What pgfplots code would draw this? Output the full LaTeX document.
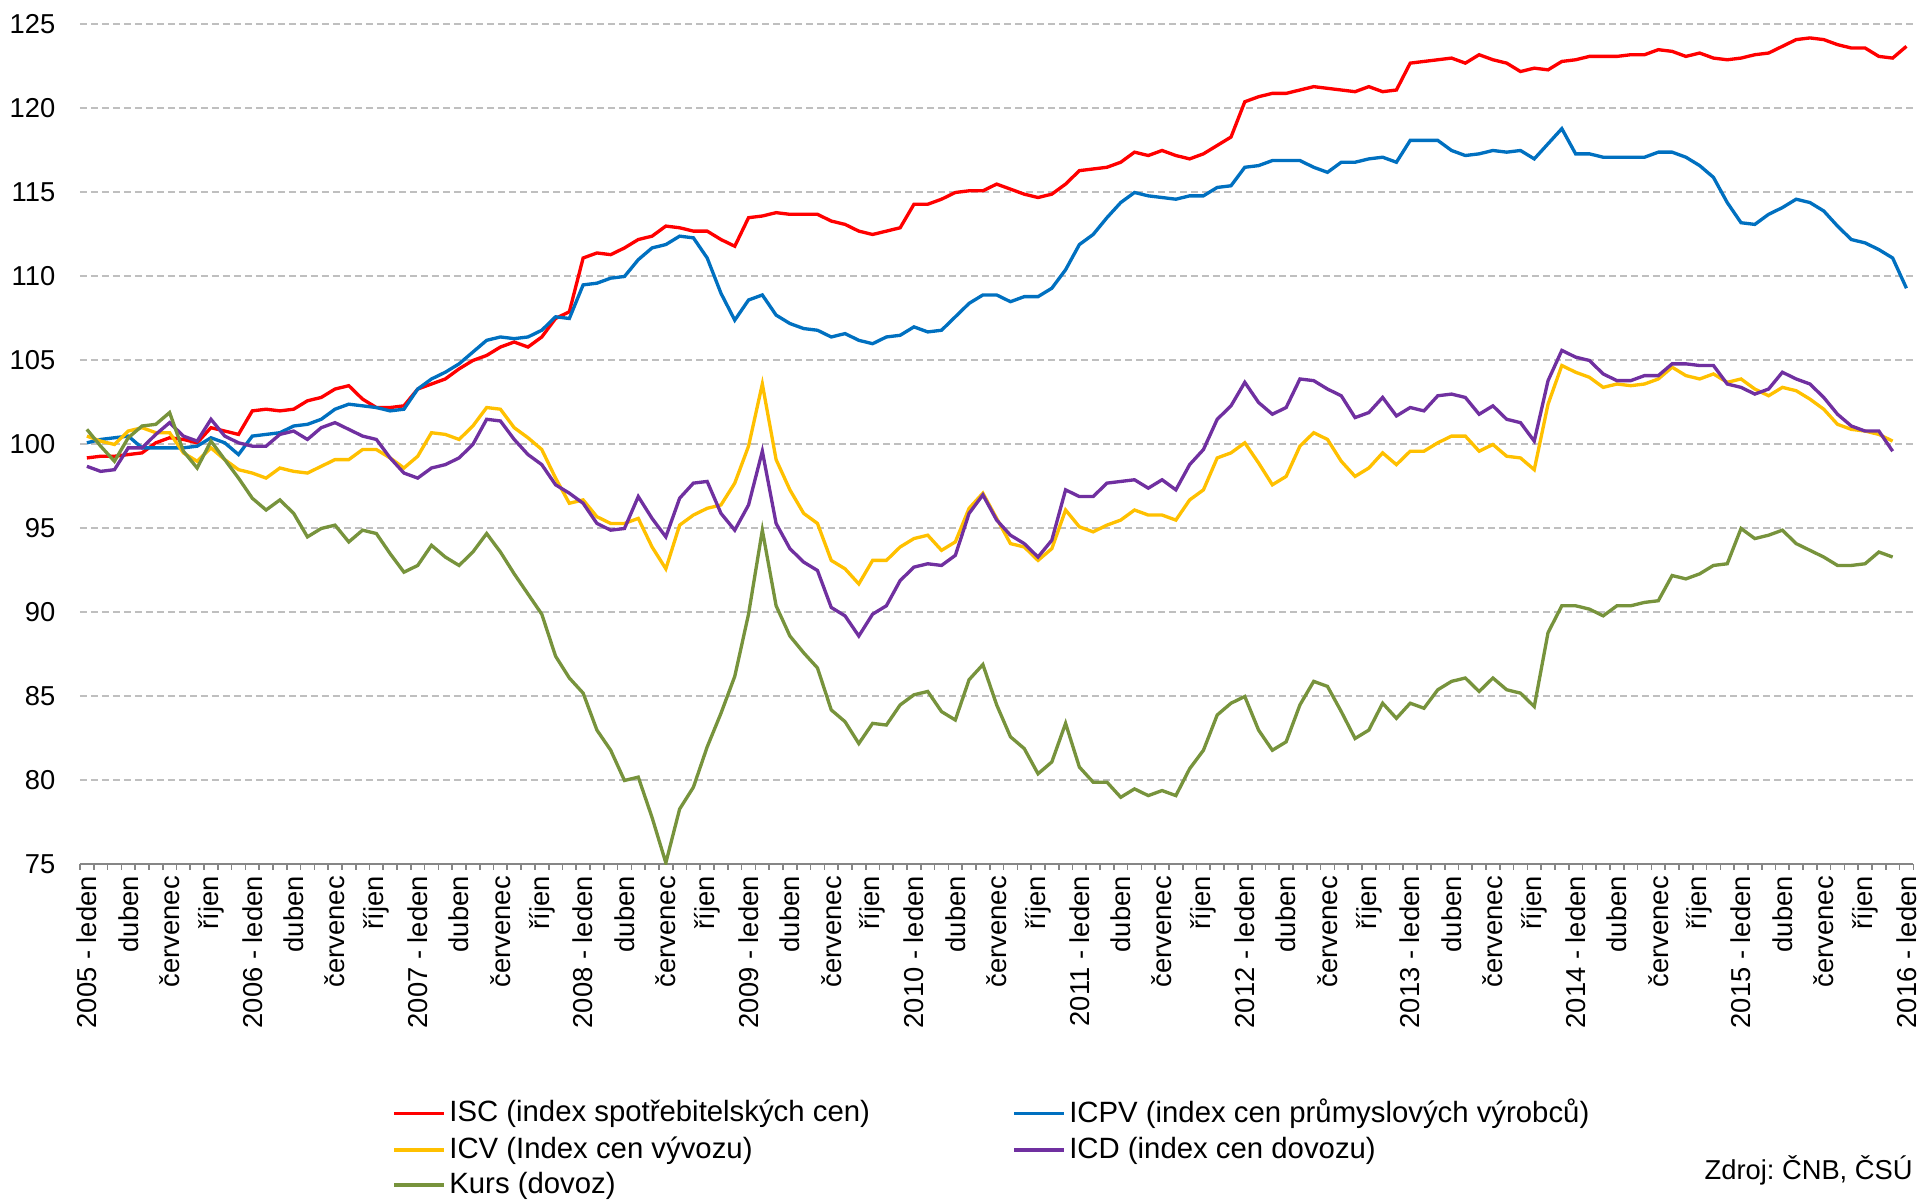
\documentclass[border=0pt]{standalone}
\usepackage{fontspec}
\setmainfont{Liberation Sans}
\usepackage{pgfplots}
\usepackage{pgfplotstable}
\pgfplotsset{compat=1.18}

\definecolor{cisc}{HTML}{FF0000}
\definecolor{cicpv}{HTML}{0070C0}
\definecolor{cicv}{HTML}{FFC000}
\definecolor{cicd}{HTML}{7030A0}
\definecolor{ckurs}{HTML}{77933C}
\definecolor{gridgray}{HTML}{BFBFBF}
\definecolor{axgray}{HTML}{868686}

% monthly indices, i = 0 is January 2005
\pgfplotstableread{
i isc icpv icv icd kurs
0 99.2 100.1 100.5 98.7 100.9
1 99.3 100.3 100.2 98.4 99.9
2 99.3 100.4 100.0 98.5 99.0
3 99.4 100.5 100.8 99.8 100.4
4 99.5 99.8 101.0 99.8 101.1
5 100.1 99.8 100.7 100.6 101.2
6 100.4 99.8 100.7 101.3 101.9
7 100.3 99.8 99.5 100.5 99.6
8 100.1 99.9 99.0 100.2 98.6
9 101.0 100.4 99.8 101.5 100.2
10 100.8 100.1 99.1 100.5 99.1
11 100.6 99.4 98.5 100.1 98.0
12 102.0 100.5 98.3 99.9 96.8
13 102.1 100.6 98.0 99.9 96.1
14 102.0 100.7 98.6 100.6 96.7
15 102.1 101.1 98.4 100.8 95.9
16 102.6 101.2 98.3 100.3 94.5
17 102.8 101.5 98.7 101.0 95.0
18 103.3 102.1 99.1 101.3 95.2
19 103.5 102.4 99.1 100.9 94.2
20 102.7 102.3 99.7 100.5 94.9
21 102.2 102.2 99.7 100.3 94.7
22 102.2 102.0 99.2 99.2 93.5
23 102.3 102.1 98.6 98.3 92.4
24 103.3 103.3 99.3 98.0 92.8
25 103.6 103.9 100.7 98.6 94.0
26 103.9 104.3 100.6 98.8 93.3
27 104.5 104.8 100.3 99.2 92.8
28 105.0 105.5 101.1 100.0 93.6
29 105.3 106.2 102.2 101.5 94.7
30 105.8 106.4 102.1 101.4 93.6
31 106.1 106.3 101.0 100.3 92.3
32 105.8 106.4 100.4 99.4 91.1
33 106.4 106.8 99.7 98.8 89.9
34 107.5 107.6 98.0 97.6 87.4
35 107.9 107.5 96.5 97.1 86.1
36 111.1 109.5 96.7 96.5 85.2
37 111.4 109.6 95.7 95.3 83.0
38 111.3 109.9 95.3 94.9 81.8
39 111.7 110.0 95.3 95.0 80.0
40 112.2 111.0 95.6 96.9 80.2
41 112.4 111.7 93.9 95.6 77.8
42 113.0 111.9 92.6 94.5 75.1
43 112.9 112.4 95.2 96.8 78.3
44 112.7 112.3 95.8 97.7 79.6
45 112.7 111.1 96.2 97.8 82.0
46 112.2 109.0 96.4 95.9 84.0
47 111.8 107.4 97.7 94.9 86.2
48 113.5 108.6 99.9 96.4 89.9
49 113.6 108.9 103.6 99.6 94.9
50 113.8 107.7 99.1 95.3 90.4
51 113.7 107.2 97.3 93.8 88.6
52 113.7 106.9 95.9 93.0 87.6
53 113.7 106.8 95.3 92.5 86.7
54 113.3 106.4 93.1 90.3 84.2
55 113.1 106.6 92.6 89.8 83.5
56 112.7 106.2 91.7 88.6 82.2
57 112.5 106.0 93.1 89.9 83.4
58 112.7 106.4 93.1 90.4 83.3
59 112.9 106.5 93.9 91.9 84.5
60 114.3 107.0 94.4 92.7 85.1
61 114.3 106.7 94.6 92.9 85.3
62 114.6 106.8 93.7 92.8 84.1
63 115.0 107.6 94.2 93.4 83.6
64 115.1 108.4 96.2 95.9 86.0
65 115.1 108.9 97.1 97.0 86.9
66 115.5 108.9 95.6 95.5 84.5
67 115.2 108.5 94.1 94.6 82.6
68 114.9 108.8 93.9 94.1 81.9
69 114.7 108.8 93.1 93.3 80.4
70 114.9 109.3 93.8 94.3 81.1
71 115.5 110.4 96.1 97.3 83.4
72 116.3 111.9 95.1 96.9 80.8
73 116.4 112.5 94.8 96.9 79.9
74 116.5 113.5 95.2 97.7 79.9
75 116.8 114.4 95.5 97.8 79.0
76 117.4 115.0 96.1 97.9 79.5
77 117.2 114.8 95.8 97.4 79.1
78 117.5 114.7 95.8 97.9 79.4
79 117.2 114.6 95.5 97.3 79.1
80 117.0 114.8 96.7 98.8 80.7
81 117.3 114.8 97.3 99.7 81.8
82 117.8 115.3 99.2 101.5 83.9
83 118.3 115.4 99.5 102.3 84.6
84 120.4 116.5 100.1 103.7 85.0
85 120.7 116.6 98.9 102.5 83.0
86 120.9 116.9 97.6 101.8 81.8
87 120.9 116.9 98.1 102.2 82.3
88 121.1 116.9 99.9 103.9 84.5
89 121.3 116.5 100.7 103.8 85.9
90 121.2 116.2 100.3 103.3 85.6
91 121.1 116.8 99.0 102.9 84.1
92 121.0 116.8 98.1 101.6 82.5
93 121.3 117.0 98.6 101.9 83.0
94 121.0 117.1 99.5 102.8 84.6
95 121.1 116.8 98.8 101.7 83.7
96 122.7 118.1 99.6 102.2 84.6
97 122.8 118.1 99.6 102.0 84.3
98 122.9 118.1 100.1 102.9 85.4
99 123.0 117.5 100.5 103.0 85.9
100 122.7 117.2 100.5 102.8 86.1
101 123.2 117.3 99.6 101.8 85.3
102 122.9 117.5 100.0 102.3 86.1
103 122.7 117.4 99.3 101.5 85.4
104 122.2 117.5 99.2 101.3 85.2
105 122.4 117.0 98.5 100.2 84.4
106 122.3 117.9 102.4 103.8 88.8
107 122.8 118.8 104.7 105.6 90.4
108 122.9 117.3 104.3 105.2 90.4
109 123.1 117.3 104.0 105.0 90.2
110 123.1 117.1 103.4 104.2 89.8
111 123.1 117.1 103.6 103.8 90.4
112 123.2 117.1 103.5 103.8 90.4
113 123.2 117.1 103.6 104.1 90.6
114 123.5 117.4 103.9 104.1 90.7
115 123.4 117.4 104.6 104.8 92.2
116 123.1 117.1 104.1 104.8 92.0
117 123.3 116.6 103.9 104.7 92.3
118 123.0 115.9 104.2 104.7 92.8
119 122.9 114.4 103.7 103.6 92.9
120 123.0 113.2 103.9 103.4 95.0
121 123.2 113.1 103.3 103.0 94.4
122 123.3 113.7 102.9 103.3 94.6
123 123.7 114.1 103.4 104.3 94.9
124 124.1 114.6 103.2 103.9 94.1
125 124.2 114.4 102.7 103.6 93.7
126 124.1 113.9 102.1 102.8 93.3
127 123.8 113.0 101.2 101.8 92.8
128 123.6 112.2 100.9 101.1 92.8
129 123.6 112.0 100.8 100.8 92.9
130 123.1 111.6 100.6 100.8 93.6
131 123.0 111.1 100.2 99.6 93.3
132 123.7 109.3 nan nan nan
}\indexdata

\begin{document}
\begin{tikzpicture}
\useasboundingbox (-24pt,-100.95pt) rectangle (552.3pt,259.35pt);
\begin{axis}[
    at={(0pt,0pt)}, anchor=south west,
    scale only axis, width=550pt, height=252pt,
    xmin=-0.5, xmax=132.5, ymin=75, ymax=125,
    axis lines=left, axis line style={-},
    x axis line style={draw=axgray, line width=0.6pt},
    y axis line style={draw=none},
    tick align=outside,
    major tick length=0pt, minor tick length=1.6pt,
    minor x tick style={draw=axgray, line width=0.5pt},
    ytick style={draw=none},
    xtick={0,3,...,132},
    minor xtick={-0.5,0.5,...,132.5},
    xticklabels={2005 - leden,duben,červenec,říjen,
        2006 - leden,duben,červenec,říjen,
        2007 - leden,duben,červenec,říjen,
        2008 - leden,duben,červenec,říjen,
        2009 - leden,duben,červenec,říjen,
        2010 - leden,duben,červenec,říjen,
        2011 - leden,duben,červenec,říjen,
        2012 - leden,duben,červenec,říjen,
        2013 - leden,duben,červenec,říjen,
        2014 - leden,duben,červenec,říjen,
        2015 - leden,duben,červenec,říjen,
        2016 - leden},
    ytick={75,80,...,125},
    ymajorgrids,
    grid style={gridgray, line width=0.6pt, dash pattern=on 2pt off 1.3pt},
    ticklabel style={font=\fontsize{8.2}{9.5}\selectfont},
    /pgf/number format/assume math mode=true,
    xticklabel style={rotate=90, anchor=east},
    yticklabel style={anchor=east, xshift=-3.9pt},
    legend columns=2,
    legend cell align=left,
    legend image code/.code={\draw[#1] (0pt,0pt) -- (15pt,0pt);},
    legend style={at={(0.1702,-0.2768)}, anchor=north west,
        draw=none, fill=none, inner sep=0pt,
        font=\fontsize{8.8}{10}\selectfont,
        row sep=1.6pt,
        nodes={inner xsep=1pt, inner ysep=0.5pt},
        /tikz/column 2/.style={column sep=41.8pt}},
]
\addplot[cisc, line width=1pt] table[x=i, y=isc] {\indexdata};
\addlegendentry{ISC (index spotřebitelských cen)}
\addplot[cicpv, line width=1pt] table[x=i, y=icpv] {\indexdata};
\addlegendentry{ICPV (index cen průmyslových výrobců)}
\addplot[cicv, line width=1pt] table[x=i, y=icv] {\indexdata};
\addlegendentry{ICV (Index cen vývozu)}
\addplot[cicd, line width=1pt] table[x=i, y=icd] {\indexdata};
\addlegendentry{ICD (index cen dovozu)}
\addplot[ckurs, line width=1pt] table[x=i, y=kurs] {\indexdata};
\addlegendentry{Kurs (dovoz)}
\end{axis}
\node[anchor=east, inner sep=0pt, font=\fontsize{8.2}{9.5}\selectfont]
    at (550pt,-91.65pt) {Zdroj:\ ČNB, ČSÚ};
\end{tikzpicture}
\end{document}
